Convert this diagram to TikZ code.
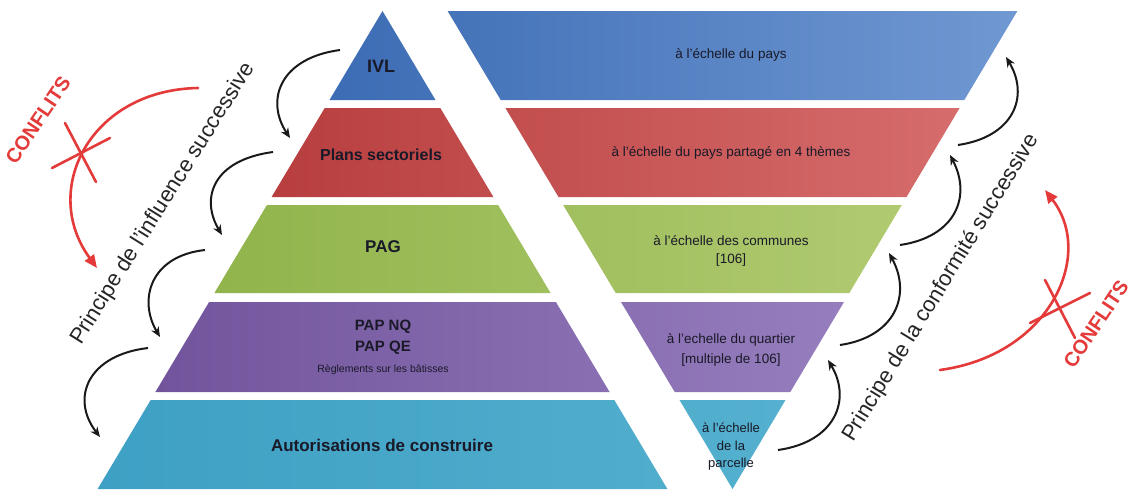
\documentclass[tikz,border=0pt]{standalone}
\usepackage{fontspec}
\setmainfont{Liberation Sans}
\usetikzlibrary{arrows.meta}
\definecolor{blueL}{RGB}{60,108,180}
\definecolor{blueR}{RGB}{112,152,210}
\definecolor{redL}{RGB}{184,62,62}
\definecolor{redR}{RGB}{214,108,108}
\definecolor{greenL}{RGB}{145,180,76}
\definecolor{greenR}{RGB}{176,202,112}
\definecolor{purpleL}{RGB}{114,84,156}
\definecolor{purpleR}{RGB}{150,126,190}
\definecolor{cyanL}{RGB}{62,160,196}
\definecolor{cyanR}{RGB}{84,176,206}
\definecolor{conflit}{RGB}{228,58,58}
\definecolor{ink}{RGB}{25,25,40}
\begin{document}
\begin{tikzpicture}[x=1pt,y=-1pt,
  lbl/.style={font=\fontsize{16}{19}\selectfont\bfseries, text=ink, align=center},
  rlbl/.style={font=\fontsize{13.5}{18}\selectfont, text=ink, align=center},
  side/.style={font=\fontsize{22}{26}\selectfont, text=black!85, anchor=base},
  conftxt/.style={font=\fontsize{20}{24}\selectfont\bfseries, text=conflit},
  flow/.style={line width=2pt, draw=black!90, -{Stealth[length=10pt,width=8.5pt]}},
  conf/.style={line width=2.6pt, draw=conflit, line cap=round},
  confarrow/.style={conf, -{Triangle[length=13pt,width=11pt]}}
]
\useasboundingbox (0,0) rectangle (1134,498);
\fill[white] (0,0) rectangle (1134,498);
% bands (left pyramid + right inverted pyramid)
\path[left color=blueL, right color=blueR]
  (382.5,11) -- (435.5,100) -- (329.5,100) -- cycle
  (447.6,11) -- (1017.4,11) -- (964.3,100) -- (500.7,100) -- cycle;
\path[left color=redL, right color=redR]
  (324.7,108) -- (440.3,108) -- (493.4,197) -- (271.6,197) -- cycle
  (505.4,108) -- (959.6,108) -- (906.5,197) -- (558.5,197) -- cycle;
\path[left color=greenL, right color=greenR]
  (266.9,205) -- (498.1,205) -- (550.6,293) -- (214.4,293) -- cycle
  (563.2,205) -- (901.8,205) -- (849.3,293) -- (615.7,293) -- cycle;
\path[left color=purpleL, right color=purpleR]
  (209.1,302) -- (555.9,302) -- (609.6,392) -- (155.4,392) -- cycle
  (621,302) -- (844,302) -- (790.3,392) -- (674.7,392) -- cycle;
\path[left color=cyanL, right color=cyanR]
  (150.7,400) -- (614.3,400) -- (667.4,489) -- (97.6,489) -- cycle
  (679.5,400) -- (785.5,400) -- (732.5,489) -- cycle;
% left labels
\node[lbl, font=\fontsize{18}{20}\selectfont\bfseries] (ivl) at (381,66) {IVL};
\node[lbl] (plans) at (381,155) {Plans sectoriels};
\node[lbl, font=\fontsize{17}{20}\selectfont\bfseries] (pag) at (383,247) {PAG};
\node[lbl, font=\fontsize{15}{18}\selectfont\bfseries] (pap1) at (383,327) {PAP NQ};
\node[lbl, font=\fontsize{15}{18}\selectfont\bfseries] (pap2) at (383,348) {PAP QE};
\node[lbl, font=\fontsize{10.5}{13}\selectfont] (pap3) at (383,370) {Règlements sur les bâtisses};
\node[lbl, font=\fontsize{17}{20}\selectfont\bfseries] (autor) at (382,445) {Autorisations de construire};
% right labels
\node[rlbl] (rpays) at (731,55) {à l'échelle du pays};
\node[rlbl] (rtheme) at (731,153) {à l'échelle du pays partagé en 4 thèmes};
\node[rlbl] (rcomm) at (731,251) {à l'échelle des communes\\{[106]}};
\node[rlbl, font=\fontsize{13.5}{20}\selectfont] (rquart) at (731,350) {à l'echelle du quartier\\{[multiple de 106]}};
\node[rlbl, font=\fontsize{13}{17.5}\selectfont] (rparc) at (731,447) {à l'échelle\\de la\\parcelle};
% side texts
\node[side, rotate=58] (infl) at (168,207) {Principe de l'influence successive};
\node[side, rotate=58.5] (conform) at (946,291) {Principe de la conformité successive};
\node[conftxt, rotate=56] (confL) at (38,120) {CONFLITS};
\node[conftxt, rotate=56] (confR) at (1096,324) {CONFLITS};
% black flow arrows (left, downward)
\coordinate (l1s) at (340,50);  \coordinate (l1e) at (290,138);
\coordinate (l2s) at (273,152); \coordinate (l2e) at (222,235);
\coordinate (l3s) at (205,250); \coordinate (l3e) at (160,337);
\coordinate (l4s) at (148,348); \coordinate (l4e) at (100,437);
\draw[flow] (l1s) .. controls (280,58) and (265,100) .. (l1e);
\draw[flow] (l2s) .. controls (213,160) and (200,198) .. (l2e);
\draw[flow] (l3s) .. controls (150,256) and (138,300) .. (l3e);
\draw[flow] (l4s) .. controls (88,355) and (70,398) .. (l4e);
% black flow arrows (right, upward)
\coordinate (r1s) at (778,450); \coordinate (r1e) at (828,360);
\coordinate (r2s) at (840,345); \coordinate (r2e) at (889,253);
\coordinate (r3s) at (900,245); \coordinate (r3e) at (950,155);
\coordinate (r4s) at (958,145); \coordinate (r4e) at (1006,57);
\draw[flow] (r1s) .. controls (835,442) and (852,400) .. (r1e);
\draw[flow] (r2s) .. controls (895,337) and (912,295) .. (r2e);
\draw[flow] (r3s) .. controls (955,237) and (972,197) .. (r3e);
\draw[flow] (r4s) .. controls (1013,137) and (1030,97) .. (r4e);
% conflict arcs
\coordinate (cls) at (198,88);  \coordinate (cle) at (97,268);
\coordinate (crs) at (940,370); \coordinate (cre) at (1045,190);
\draw[confarrow] (cls) .. controls (90,90) and (40,190) .. (cle);
\draw[confarrow] (crs) .. controls (1050,355) and (1095,255) .. (cre);
% crosses
\coordinate (xa1) at (65,123);  \coordinate (xa2) at (96,182);
\coordinate (xb1) at (52,168);  \coordinate (xb2) at (110,138);
\coordinate (ya1) at (1045,280); \coordinate (ya2) at (1075,338);
\coordinate (yb1) at (1030,323); \coordinate (yb2) at (1090,293);
\draw[conf] (xa1) -- (xa2);
\draw[conf] (xb1) -- (xb2);
\draw[conf] (ya1) -- (ya2);
\draw[conf] (yb1) -- (yb2);
\end{tikzpicture}
\end{document}
